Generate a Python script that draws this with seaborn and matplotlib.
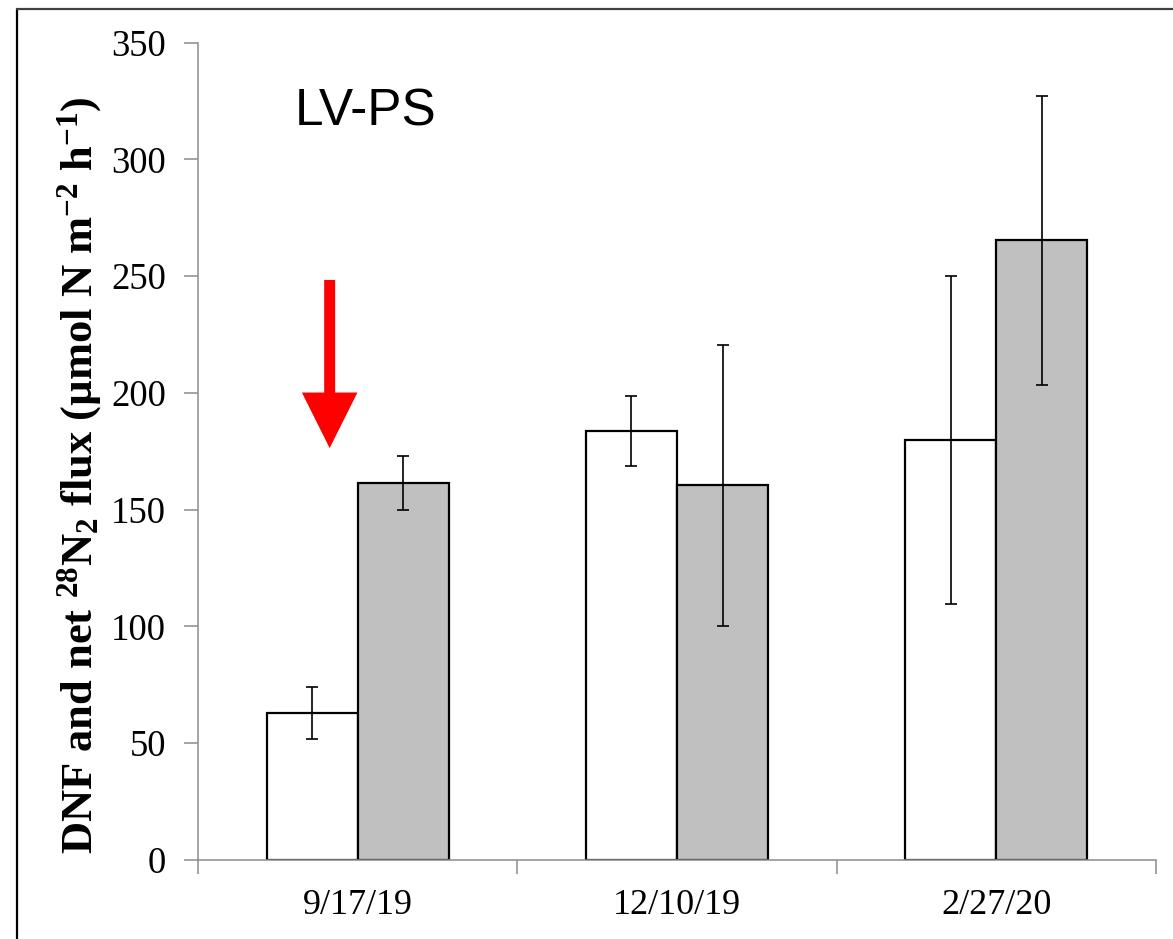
import numpy as np
import pandas as pd
import seaborn as sns
import matplotlib
matplotlib.use("Agg")
import matplotlib.pyplot as plt
from matplotlib.lines import Line2D

# ---- data ----
dates = ["9/17/19", "12/10/19", "2/27/20"]
series = ["DNF", "net 28N2 flux"]
dnf = [63.0, 183.7, 179.8]
dnf_err = [11.0, 15.0, 70.2]
net = [161.6, 160.4, 265.3]
net_err = [11.6, 60.3, 61.7]
yticks = [0, 50, 100, 150, 200, 250, 300, 350]
panel_label = "LV-PS"
ylabel = r"DNF and net $^{28}$N$_{2}$ flux (µmol N m$^{-2}$ h$^{-1}$)"

sns.set_theme(style="white")
plt.rcParams["font.family"] = ["Liberation Serif", "DejaVu Serif"]
plt.rcParams["mathtext.fontset"] = "custom"
plt.rcParams["mathtext.rm"] = "Liberation Serif:bold"
plt.rcParams["mathtext.bf"] = "Liberation Serif:bold"
plt.rcParams["mathtext.it"] = "Liberation Serif:bold"
plt.rcParams["mathtext.default"] = "rm"

W, H = 1173, 939
fig = plt.figure(figsize=(W / 100, H / 100), dpi=100)
fig.patch.set_facecolor("white")
left, right, bottom, top = 198, 1156, 860, 42.7
ax = fig.add_axes([left / W, 1 - bottom / H, (right - left) / W, (bottom - top) / H])

df = pd.DataFrame({
    "date": dates * 2,
    "series": [series[0]] * 3 + [series[1]] * 3,
    "value": dnf + net,
})

sns.barplot(data=df, x="date", y="value", hue="series", order=dates,
            hue_order=series, palette=["white", "#C0C0C0"], saturation=1,
            edgecolor="black", linewidth=1.6, width=0.57, errorbar=None,
            legend=False, ax=ax, zorder=2)

for cont, errs in zip(ax.containers, [dnf_err, net_err]):
    xs = [b.get_x() + b.get_width() / 2 for b in cont]
    hs = [b.get_height() for b in cont]
    ax.errorbar(xs, hs, yerr=errs, fmt="none", ecolor="black",
                elinewidth=1.2, capsize=4.5, capthick=1.2, zorder=3)

gray = "#8c8c8c"
ax.set_xlim(-0.5, 2.5)
ax.set_ylim(0, 350)
ax.set_yticks(yticks)
ax.set_yticklabels([str(t) for t in yticks])
ax.set_xticks([-0.5, 0.5, 1.5, 2.5])
ax.set_xticklabels(["", "", "", ""])
ax.set_xticks([0, 1, 2], minor=True)
ax.set_xticklabels(dates, minor=True)
ax.tick_params(axis="x", which="major", length=10, width=1.1, color=gray,
               direction="out", bottom=True, labelbottom=False)
ax.tick_params(axis="x", which="minor", length=0, pad=21, labelsize=26,
               labelcolor="black")
ax.tick_params(axis="y", length=10, width=1.1, color=gray, direction="out",
               left=True, pad=13, labelsize=26.5, labelcolor="black")
for s in ["top", "right"]:
    ax.spines[s].set_visible(False)
for s in ["left", "bottom"]:
    ax.spines[s].set_color(gray)
    ax.spines[s].set_linewidth(1.1)
ax.set_xlabel("")
ax.set_ylabel(ylabel, fontsize=32, fontweight="bold", color="black")
ax.yaxis.set_label_coords((104 - left) / (right - left), (bottom - 475) / (bottom - top))
ax.grid(False)

ax.text((295 - left) / (right - left), (bottom - 126) / (bottom - top), panel_label,
        transform=ax.transAxes, fontsize=37, family="Liberation Sans",
        ha="left", va="baseline", color="black")

# red arrow
arrow_x = (330 - 358) / ((right - left) / 3)
ax.annotate("", xy=(arrow_x, 176.4), xytext=(arrow_x, 248.4), xycoords="data",
            arrowprops=dict(arrowstyle="simple,head_length=40,head_width=40,tail_width=7.9",
                            mutation_scale=1, color="#FF0000", shrinkA=0, shrinkB=0,
                            linewidth=0), zorder=4)

# figure frame (left and top edges)
fig.add_artist(Line2D([17 / W, 17 / W], [0, 1 - 9 / H], color="black", lw=1.6,
                      transform=fig.transFigure))
fig.add_artist(Line2D([17 / W, 1], [1 - 9 / H, 1 - 9 / H], color="#404040", lw=1.6,
                      transform=fig.transFigure))

fig.savefig("out.png", dpi=100, facecolor="white")
